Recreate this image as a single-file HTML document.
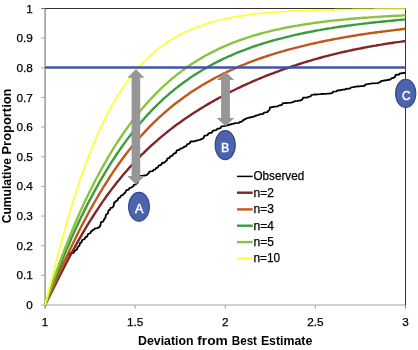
<!DOCTYPE html>
<html><head><meta charset="utf-8"><title>Chart</title>
<style>
html,body{margin:0;padding:0;background:#fff;}
body{width:418px;height:350px;overflow:hidden;}
svg{display:block;}
text{font-family:"Liberation Sans",sans-serif;fill:#000;}
.b{font-weight:bold;}
.r{stroke:#000;stroke-width:0.25px;}
</style></head><body>
<svg width="418" height="350" viewBox="0 0 418 350">
<rect width="418" height="350" fill="#fff"/>

<line x1="45.1" y1="8.0" x2="45.1" y2="308.7" stroke="#a3a3a3" stroke-width="1.7"/>
<line x1="41.1" y1="305.0" x2="405.5" y2="305.0" stroke="#a6a6a6" stroke-width="1.2"/>
<line x1="41.1" y1="8.5" x2="45.1" y2="8.5" stroke="#777" stroke-width="1"/>
<line x1="45.1" y1="8.5" x2="406.0" y2="8.5" stroke="#333" stroke-width="1"/>
<line x1="405.5" y1="8.5" x2="405.5" y2="305.3" stroke="#333" stroke-width="1"/>
<line x1="405.5" y1="305.3" x2="405.5" y2="308.7" stroke="#8a8a8a" stroke-width="1"/>
<line x1="41.1" y1="275.35" x2="45.1" y2="275.35" stroke="#a6a6a6" stroke-width="1"/>
<line x1="41.1" y1="245.70" x2="45.1" y2="245.70" stroke="#a6a6a6" stroke-width="1"/>
<line x1="41.1" y1="216.05" x2="45.1" y2="216.05" stroke="#a6a6a6" stroke-width="1"/>
<line x1="41.1" y1="186.40" x2="45.1" y2="186.40" stroke="#a6a6a6" stroke-width="1"/>
<line x1="41.1" y1="156.75" x2="45.1" y2="156.75" stroke="#a6a6a6" stroke-width="1"/>
<line x1="41.1" y1="127.10" x2="45.1" y2="127.10" stroke="#a6a6a6" stroke-width="1"/>
<line x1="41.1" y1="97.45" x2="45.1" y2="97.45" stroke="#a6a6a6" stroke-width="1"/>
<line x1="41.1" y1="67.80" x2="45.1" y2="67.80" stroke="#a6a6a6" stroke-width="1"/>
<line x1="41.1" y1="38.15" x2="45.1" y2="38.15" stroke="#a6a6a6" stroke-width="1"/>
<line x1="135.20" y1="305.0" x2="135.20" y2="308.7" stroke="#a6a6a6" stroke-width="1"/>
<line x1="225.30" y1="305.0" x2="225.30" y2="308.7" stroke="#a6a6a6" stroke-width="1"/>
<line x1="315.40" y1="305.0" x2="315.40" y2="308.7" stroke="#a6a6a6" stroke-width="1"/>
<text class="r" x="32.8" y="309.0" font-size="11.8" text-anchor="end" textLength="6.5" lengthAdjust="spacingAndGlyphs">0</text>
<text class="r" x="32.8" y="279.4" font-size="11.8" text-anchor="end" textLength="16.4" lengthAdjust="spacingAndGlyphs">0.1</text>
<text class="r" x="32.8" y="249.7" font-size="11.8" text-anchor="end" textLength="16.4" lengthAdjust="spacingAndGlyphs">0.2</text>
<text class="r" x="32.8" y="220.1" font-size="11.8" text-anchor="end" textLength="16.4" lengthAdjust="spacingAndGlyphs">0.3</text>
<text class="r" x="32.8" y="190.4" font-size="11.8" text-anchor="end" textLength="16.4" lengthAdjust="spacingAndGlyphs">0.4</text>
<text class="r" x="32.8" y="160.8" font-size="11.8" text-anchor="end" textLength="16.4" lengthAdjust="spacingAndGlyphs">0.5</text>
<text class="r" x="32.8" y="131.1" font-size="11.8" text-anchor="end" textLength="16.4" lengthAdjust="spacingAndGlyphs">0.6</text>
<text class="r" x="32.8" y="101.5" font-size="11.8" text-anchor="end" textLength="16.4" lengthAdjust="spacingAndGlyphs">0.7</text>
<text class="r" x="32.8" y="71.8" font-size="11.8" text-anchor="end" textLength="16.4" lengthAdjust="spacingAndGlyphs">0.8</text>
<text class="r" x="32.8" y="42.1" font-size="11.8" text-anchor="end" textLength="16.4" lengthAdjust="spacingAndGlyphs">0.9</text>
<text class="r" x="32.8" y="12.5" font-size="11.8" text-anchor="end" textLength="6.5" lengthAdjust="spacingAndGlyphs">1</text>
<text class="r" x="45.1" y="325.8" font-size="11.8" text-anchor="middle" textLength="6.5" lengthAdjust="spacingAndGlyphs">1</text>
<text class="r" x="135.2" y="325.8" font-size="11.8" text-anchor="middle" textLength="16.4" lengthAdjust="spacingAndGlyphs">1.5</text>
<text class="r" x="225.3" y="325.8" font-size="11.8" text-anchor="middle" textLength="6.5" lengthAdjust="spacingAndGlyphs">2</text>
<text class="r" x="315.4" y="325.8" font-size="11.8" text-anchor="middle" textLength="16.4" lengthAdjust="spacingAndGlyphs">2.5</text>
<text class="r" x="405.5" y="325.8" font-size="11.8" text-anchor="middle" textLength="6.5" lengthAdjust="spacingAndGlyphs">3</text>
<text class="b" y="345" font-size="12.4"><tspan x="138.00" textLength="55.60" lengthAdjust="spacingAndGlyphs">Deviation</tspan> <tspan x="197.20" textLength="30.60" lengthAdjust="spacingAndGlyphs">from</tspan> <tspan x="231.80" textLength="25.20" lengthAdjust="spacingAndGlyphs">Best</tspan> <tspan x="260.90" textLength="51.40" lengthAdjust="spacingAndGlyphs">Estimate</tspan></text>
<text class="b" transform="translate(11,0) rotate(-90)" y="0" font-size="12.8"><tspan x="-223.30" textLength="65.20" lengthAdjust="spacingAndGlyphs">Cumulative</tspan> <tspan x="-154.50" textLength="66.00" lengthAdjust="spacingAndGlyphs">Proportion</tspan></text>
<path d="M44.8,305.0 L48.0,297.1 L51.0,290.0 L54.9,281.0 L57.0,276.0 L61.3,267.5 L64.0,262.0 L68.5,254.0 L70.9,253.3 L72.3,253.2 L72.9,253.0 L73.9,252.4 L74.3,250.9 L75.3,250.7 L75.7,250.2 L77.1,249.2 L77.7,247.0 L79.3,245.9 L80.0,243.2 L81.5,242.2 L82.2,240.0 L84.4,239.2 L85.4,237.4 L87.2,236.4 L88.0,234.0 L90.4,233.1 L91.4,231.0 L92.6,230.6 L93.1,229.7 L94.4,229.3 L94.9,228.4 L97.3,228.2 L98.3,227.6 L99.5,227.1 L100.0,225.9 L100.6,224.8 L100.9,222.4 L103.3,221.4 L104.3,219.0 L105.5,217.7 L106.0,214.7 L107.8,213.4 L108.6,210.4 L110.0,209.7 L110.6,207.9 L112.2,207.6 L112.9,207.0 L113.7,205.7 L114.1,202.7 L115.1,202.3 L115.5,201.3 L117.5,200.3 L118.4,198.1 L120.2,197.3 L121.0,195.6 L122.8,195.1 L123.6,193.9 L125.3,192.8 L126.1,190.4 L128.6,189.7 L129.6,187.9 L131.3,187.6 L132.1,187.0 L133.4,186.3 L133.9,184.8 L135.7,184.4 L136.4,183.6 L137.9,182.2 L138.5,179.0 L140.0,178.1 L140.7,175.9 L143.1,175.8 L144.1,175.5 L146.6,175.1 L147.6,174.1 L148.8,173.3 L149.3,171.6 L152.6,171.1 L153.6,169.9 L155.3,169.4 L156.1,168.1 L157.9,167.3 L158.7,165.6 L161.1,164.8 L162.1,163.0 L164.6,162.5 L165.6,161.3 L166.8,160.5 L167.3,158.7 L169.4,158.0 L170.3,156.3 L172.5,155.6 L173.4,153.9 L175.9,152.8 L176.9,150.4 L179.3,149.9 L180.3,148.7 L182.7,148.2 L183.7,147.0 L186.1,146.2 L187.1,144.4 L189.6,143.5 L190.6,141.5 L194.7,141.3 L195.7,140.7 L197.4,140.5 L198.1,140.1 L200.1,139.8 L200.9,139.3 L203.3,138.3 L204.3,135.9 L207.6,135.1 L208.6,133.3 L211.9,132.5 L212.9,130.7 L216.1,130.2 L217.1,129.0 L220.4,128.2 L221.4,126.4 L223.9,126.2 L224.9,125.9 L227.0,125.6 L227.9,125.0 L229.2,124.9 L229.7,124.5 L231.3,124.3 L232.0,123.9 L234.0,123.7 L234.9,123.2 L239.0,122.8 L240.0,122.0 L242.4,121.3 L243.4,119.8 L244.6,119.5 L245.1,119.0 L246.4,118.7 L246.9,118.1 L248.5,117.9 L249.3,117.5 L251.2,117.4 L252.0,116.9 L254.4,116.5 L255.4,115.7 L256.8,115.5 L257.4,115.1 L259.0,114.8 L259.7,114.3 L263.0,113.8 L264.0,112.6 L267.3,112.1 L268.3,110.9 L269.5,109.9 L270.0,107.4 L271.5,107.3 L272.1,107.0 L273.6,106.9 L274.3,106.6 L277.6,106.3 L278.6,105.7 L281.9,104.9 L282.9,103.1 L286.0,103.0 L287.0,102.8 L291.0,102.6 L292.0,102.3 L293.8,101.9 L294.6,101.1 L297.6,100.9 L298.6,100.6 L300.0,100.5 L300.6,100.3 L302.4,99.5 L303.1,97.7 L307.3,97.5 L308.3,96.9 L310.7,96.3 L311.7,94.8 L313.7,94.7 L314.5,94.5 L316.2,94.5 L316.9,94.3 L320.8,94.2 L321.8,94.0 L324.4,93.9 L325.4,93.8 L327.2,93.7 L328.0,93.6 L329.8,93.5 L330.6,93.4 L332.4,92.9 L333.1,91.7 L336.4,91.3 L337.4,90.5 L339.6,90.4 L340.6,90.0 L342.0,89.9 L342.6,89.7 L345.0,89.5 L346.0,88.9 L350.1,88.5 L351.1,87.4 L353.3,87.2 L354.3,86.9 L355.7,86.7 L356.3,86.5 L359.5,86.4 L360.5,86.2 L362.3,86.1 L363.1,86.0 L364.9,85.5 L365.7,84.3 L367.7,84.2 L368.6,83.9 L370.8,83.7 L371.7,83.4 L377.6,83.2 L378.6,82.6 L380.4,82.1 L381.1,80.9 L383.0,80.8 L383.8,80.5 L386.1,80.4 L387.1,80.0 L390.4,79.5 L391.4,78.3 L394.7,77.3 L395.7,74.9 L399.0,74.5 L400.0,73.5 L401.3,73.4 L401.8,73.2 L404.3,73.0 L405.3,72.6" fill="none" stroke="#000" stroke-width="1.85" stroke-linejoin="round"/>
<path d="M45.1,305.0 L47.1,301.0 L49.1,297.0 L51.1,293.0 L53.1,289.0 L55.1,285.0 L57.1,281.0 L59.1,277.0 L61.1,273.1 L63.1,269.2 L65.1,265.3 L67.1,261.5 L69.1,257.7 L71.1,253.9 L73.1,250.2 L75.1,246.5 L77.1,242.9 L79.1,239.4 L81.1,235.8 L83.1,232.4 L85.1,229.0 L87.1,225.7 L89.1,222.4 L91.2,219.1 L93.2,216.0 L95.2,212.8 L97.2,209.8 L99.2,206.8 L101.2,203.8 L103.2,200.9 L105.2,198.1 L107.2,195.3 L109.2,192.6 L111.2,189.9 L113.2,187.3 L115.2,184.7 L117.2,182.1 L119.2,179.7 L121.2,177.2 L123.2,174.8 L125.2,172.5 L127.2,170.2 L129.2,167.9 L131.2,165.7 L133.2,163.5 L135.2,161.4 L137.2,159.3 L139.2,157.3 L141.2,155.2 L143.2,153.3 L145.2,151.3 L147.2,149.4 L149.2,147.5 L151.2,145.7 L153.2,143.9 L155.2,142.1 L157.2,140.3 L159.2,138.6 L161.2,136.9 L163.2,135.3 L165.2,133.6 L167.2,132.0 L169.2,130.4 L171.2,128.9 L173.2,127.3 L175.2,125.8 L177.2,124.3 L179.2,122.9 L181.3,121.4 L183.3,120.0 L185.3,118.6 L187.3,117.3 L189.3,115.9 L191.3,114.6 L193.3,113.3 L195.3,112.0 L197.3,110.7 L199.3,109.4 L201.3,108.2 L203.3,107.0 L205.3,105.8 L207.3,104.6 L209.3,103.4 L211.3,102.2 L213.3,101.1 L215.3,100.0 L217.3,98.9 L219.3,97.8 L221.3,96.7 L223.3,95.6 L225.3,94.6 L227.3,93.5 L229.3,92.5 L231.3,91.5 L233.3,90.5 L235.3,89.5 L237.3,88.5 L239.3,87.6 L241.3,86.6 L243.3,85.7 L245.3,84.8 L247.3,83.9 L249.3,83.0 L251.3,82.1 L253.3,81.2 L255.3,80.3 L257.3,79.5 L259.3,78.7 L261.3,77.8 L263.3,77.0 L265.3,76.2 L267.3,75.4 L269.3,74.6 L271.4,73.8 L273.4,73.1 L275.4,72.3 L277.4,71.6 L279.4,70.8 L281.4,70.1 L283.4,69.4 L285.4,68.7 L287.4,68.0 L289.4,67.3 L291.4,66.6 L293.4,65.9 L295.4,65.3 L297.4,64.6 L299.4,64.0 L301.4,63.3 L303.4,62.7 L305.4,62.1 L307.4,61.5 L309.4,60.9 L311.4,60.3 L313.4,59.7 L315.4,59.2 L317.4,58.6 L319.4,58.0 L321.4,57.5 L323.4,56.9 L325.4,56.4 L327.4,55.9 L329.4,55.4 L331.4,54.9 L333.4,54.4 L335.4,53.9 L337.4,53.4 L339.4,52.9 L341.4,52.4 L343.4,52.0 L345.4,51.5 L347.4,51.1 L349.4,50.6 L351.4,50.2 L353.4,49.8 L355.4,49.4 L357.4,49.0 L359.4,48.6 L361.5,48.2 L363.5,47.8 L365.5,47.4 L367.5,47.0 L369.5,46.6 L371.5,46.3 L373.5,45.9 L375.5,45.6 L377.5,45.2 L379.5,44.9 L381.5,44.6 L383.5,44.2 L385.5,43.9 L387.5,43.6 L389.5,43.3 L391.5,43.0 L393.5,42.7 L395.5,42.4 L397.5,42.1 L399.5,41.9 L401.5,41.6 L403.5,41.3 L405.5,41.1" fill="none" stroke="#7f262a" stroke-width="2.4" stroke-linejoin="round"/>
<path d="M45.1,305.0 L47.1,300.4 L49.1,295.9 L51.1,291.3 L53.1,286.8 L55.1,282.2 L57.1,277.7 L59.1,273.3 L61.1,268.8 L63.1,264.4 L65.1,260.1 L67.1,255.8 L69.1,251.5 L71.1,247.3 L73.1,243.1 L75.1,239.0 L77.1,234.9 L79.1,230.9 L81.1,227.0 L83.1,223.1 L85.1,219.3 L87.1,215.5 L89.1,211.8 L91.2,208.1 L93.2,204.5 L95.2,201.0 L97.2,197.5 L99.2,194.1 L101.2,190.8 L103.2,187.5 L105.2,184.3 L107.2,181.1 L109.2,178.0 L111.2,174.9 L113.2,171.9 L115.2,169.0 L117.2,166.1 L119.2,163.3 L121.2,160.5 L123.2,157.8 L125.2,155.2 L127.2,152.6 L129.2,150.0 L131.2,147.5 L133.2,145.1 L135.2,142.7 L137.2,140.3 L139.2,138.0 L141.2,135.8 L143.2,133.6 L145.2,131.4 L147.2,129.3 L149.2,127.2 L151.2,125.2 L153.2,123.2 L155.2,121.2 L157.2,119.3 L159.2,117.4 L161.2,115.6 L163.2,113.8 L165.2,112.0 L167.2,110.3 L169.2,108.6 L171.2,107.0 L173.2,105.3 L175.2,103.7 L177.2,102.2 L179.2,100.7 L181.3,99.2 L183.3,97.7 L185.3,96.3 L187.3,94.9 L189.3,93.5 L191.3,92.1 L193.3,90.8 L195.3,89.5 L197.3,88.2 L199.3,87.0 L201.3,85.7 L203.3,84.5 L205.3,83.4 L207.3,82.2 L209.3,81.1 L211.3,80.0 L213.3,78.9 L215.3,77.8 L217.3,76.8 L219.3,75.7 L221.3,74.7 L223.3,73.7 L225.3,72.8 L227.3,71.8 L229.3,70.9 L231.3,70.0 L233.3,69.1 L235.3,68.2 L237.3,67.3 L239.3,66.4 L241.3,65.6 L243.3,64.8 L245.3,64.0 L247.3,63.2 L249.3,62.4 L251.3,61.6 L253.3,60.9 L255.3,60.2 L257.3,59.4 L259.3,58.7 L261.3,58.0 L263.3,57.3 L265.3,56.7 L267.3,56.0 L269.3,55.3 L271.4,54.7 L273.4,54.1 L275.4,53.4 L277.4,52.8 L279.4,52.2 L281.4,51.6 L283.4,51.1 L285.4,50.5 L287.4,49.9 L289.4,49.4 L291.4,48.9 L293.4,48.3 L295.4,47.8 L297.4,47.3 L299.4,46.8 L301.4,46.3 L303.4,45.8 L305.4,45.3 L307.4,44.8 L309.4,44.4 L311.4,43.9 L313.4,43.5 L315.4,43.0 L317.4,42.6 L319.4,42.1 L321.4,41.7 L323.4,41.3 L325.4,40.9 L327.4,40.5 L329.4,40.1 L331.4,39.7 L333.4,39.3 L335.4,38.9 L337.4,38.6 L339.4,38.2 L341.4,37.8 L343.4,37.5 L345.4,37.1 L347.4,36.8 L349.4,36.5 L351.4,36.1 L353.4,35.8 L355.4,35.5 L357.4,35.1 L359.4,34.8 L361.5,34.5 L363.5,34.2 L365.5,33.9 L367.5,33.6 L369.5,33.3 L371.5,33.0 L373.5,32.8 L375.5,32.5 L377.5,32.2 L379.5,31.9 L381.5,31.7 L383.5,31.4 L385.5,31.2 L387.5,30.9 L389.5,30.7 L391.5,30.4 L393.5,30.2 L395.5,29.9 L397.5,29.7 L399.5,29.5 L401.5,29.2 L403.5,29.0 L405.5,28.8" fill="none" stroke="#c2571b" stroke-width="2.4" stroke-linejoin="round"/>
<path d="M45.1,305.0 L47.1,299.4 L49.1,293.9 L51.1,288.5 L53.1,283.2 L55.1,278.0 L57.1,272.9 L59.1,267.8 L61.1,262.8 L63.1,257.9 L65.1,253.1 L67.1,248.3 L69.1,243.7 L71.1,239.1 L73.1,234.6 L75.1,230.1 L77.1,225.8 L79.1,221.5 L81.1,217.3 L83.1,213.2 L85.1,209.1 L87.1,205.1 L89.1,201.2 L91.2,197.4 L93.2,193.6 L95.2,189.9 L97.2,186.3 L99.2,182.7 L101.2,179.2 L103.2,175.8 L105.2,172.4 L107.2,169.1 L109.2,165.8 L111.2,162.7 L113.2,159.6 L115.2,156.5 L117.2,153.5 L119.2,150.6 L121.2,147.7 L123.2,144.9 L125.2,142.1 L127.2,139.4 L129.2,136.8 L131.2,134.2 L133.2,131.6 L135.2,129.1 L137.2,126.7 L139.2,124.3 L141.2,122.0 L143.2,119.7 L145.2,117.4 L147.2,115.2 L149.2,113.1 L151.2,111.0 L153.2,108.9 L155.2,106.9 L157.2,104.9 L159.2,103.0 L161.2,101.1 L163.2,99.2 L165.2,97.4 L167.2,95.7 L169.2,93.9 L171.2,92.2 L173.2,90.6 L175.2,88.9 L177.2,87.4 L179.2,85.8 L181.3,84.3 L183.3,82.8 L185.3,81.3 L187.3,79.9 L189.3,78.5 L191.3,77.1 L193.3,75.8 L195.3,74.5 L197.3,73.2 L199.3,72.0 L201.3,70.7 L203.3,69.5 L205.3,68.4 L207.3,67.2 L209.3,66.1 L211.3,65.0 L213.3,63.9 L215.3,62.9 L217.3,61.9 L219.3,60.9 L221.3,59.9 L223.3,58.9 L225.3,58.0 L227.3,57.0 L229.3,56.1 L231.3,55.3 L233.3,54.4 L235.3,53.5 L237.3,52.7 L239.3,51.9 L241.3,51.1 L243.3,50.3 L245.3,49.6 L247.3,48.8 L249.3,48.1 L251.3,47.4 L253.3,46.7 L255.3,46.0 L257.3,45.3 L259.3,44.7 L261.3,44.0 L263.3,43.4 L265.3,42.8 L267.3,42.2 L269.3,41.6 L271.4,41.0 L273.4,40.4 L275.4,39.9 L277.4,39.3 L279.4,38.8 L281.4,38.3 L283.4,37.8 L285.4,37.3 L287.4,36.8 L289.4,36.3 L291.4,35.8 L293.4,35.4 L295.4,34.9 L297.4,34.5 L299.4,34.0 L301.4,33.6 L303.4,33.2 L305.4,32.8 L307.4,32.4 L309.4,32.0 L311.4,31.6 L313.4,31.2 L315.4,30.8 L317.4,30.4 L319.4,30.1 L321.4,29.7 L323.4,29.4 L325.4,29.0 L327.4,28.7 L329.4,28.4 L331.4,28.1 L333.4,27.7 L335.4,27.4 L337.4,27.1 L339.4,26.8 L341.4,26.5 L343.4,26.3 L345.4,26.0 L347.4,25.7 L349.4,25.4 L351.4,25.2 L353.4,24.9 L355.4,24.6 L357.4,24.4 L359.4,24.1 L361.5,23.9 L363.5,23.6 L365.5,23.4 L367.5,23.2 L369.5,22.9 L371.5,22.7 L373.5,22.5 L375.5,22.3 L377.5,22.1 L379.5,21.9 L381.5,21.7 L383.5,21.5 L385.5,21.3 L387.5,21.1 L389.5,20.9 L391.5,20.7 L393.5,20.5 L395.5,20.3 L397.5,20.1 L399.5,19.9 L401.5,19.8 L403.5,19.6 L405.5,19.4" fill="none" stroke="#3c9c3b" stroke-width="2.4" stroke-linejoin="round"/>
<path d="M45.1,305.0 L47.1,298.8 L49.1,292.8 L51.1,286.8 L53.1,281.0 L55.1,275.2 L57.1,269.6 L59.1,264.1 L61.1,258.7 L63.1,253.4 L65.1,248.2 L67.1,243.1 L69.1,238.0 L71.1,233.1 L73.1,228.3 L75.1,223.5 L77.1,218.9 L79.1,214.3 L81.1,209.8 L83.1,205.5 L85.1,201.1 L87.1,196.9 L89.1,192.8 L91.2,188.7 L93.2,184.7 L95.2,180.8 L97.2,177.0 L99.2,173.2 L101.2,169.5 L103.2,165.9 L105.2,162.4 L107.2,158.9 L109.2,155.5 L111.2,152.2 L113.2,148.9 L115.2,145.7 L117.2,142.6 L119.2,139.5 L121.2,136.5 L123.2,133.6 L125.2,130.7 L127.2,127.9 L129.2,125.1 L131.2,122.4 L133.2,119.8 L135.2,117.2 L137.2,114.7 L139.2,112.2 L141.2,109.8 L143.2,107.4 L145.2,105.1 L147.2,102.8 L149.2,100.6 L151.2,98.5 L153.2,96.4 L155.2,94.3 L157.2,92.3 L159.2,90.3 L161.2,88.4 L163.2,86.5 L165.2,84.6 L167.2,82.9 L169.2,81.1 L171.2,79.4 L173.2,77.7 L175.2,76.1 L177.2,74.5 L179.2,72.9 L181.3,71.4 L183.3,69.9 L185.3,68.5 L187.3,67.1 L189.3,65.7 L191.3,64.3 L193.3,63.0 L195.3,61.7 L197.3,60.5 L199.3,59.3 L201.3,58.1 L203.3,56.9 L205.3,55.8 L207.3,54.7 L209.3,53.6 L211.3,52.6 L213.3,51.6 L215.3,50.6 L217.3,49.6 L219.3,48.6 L221.3,47.7 L223.3,46.8 L225.3,45.9 L227.3,45.1 L229.3,44.2 L231.3,43.4 L233.3,42.6 L235.3,41.9 L237.3,41.1 L239.3,40.4 L241.3,39.7 L243.3,39.0 L245.3,38.3 L247.3,37.6 L249.3,37.0 L251.3,36.4 L253.3,35.7 L255.3,35.1 L257.3,34.6 L259.3,34.0 L261.3,33.4 L263.3,32.9 L265.3,32.4 L267.3,31.9 L269.3,31.4 L271.4,30.9 L273.4,30.4 L275.4,29.9 L277.4,29.5 L279.4,29.1 L281.4,28.6 L283.4,28.2 L285.4,27.8 L287.4,27.4 L289.4,27.0 L291.4,26.6 L293.4,26.3 L295.4,25.9 L297.4,25.6 L299.4,25.2 L301.4,24.9 L303.4,24.6 L305.4,24.3 L307.4,24.0 L309.4,23.7 L311.4,23.4 L313.4,23.1 L315.4,22.8 L317.4,22.5 L319.4,22.3 L321.4,22.0 L323.4,21.8 L325.4,21.5 L327.4,21.3 L329.4,21.0 L331.4,20.8 L333.4,20.6 L335.4,20.4 L337.4,20.2 L339.4,20.0 L341.4,19.8 L343.4,19.6 L345.4,19.4 L347.4,19.2 L349.4,19.0 L351.4,18.8 L353.4,18.7 L355.4,18.5 L357.4,18.3 L359.4,18.2 L361.5,18.0 L363.5,17.8 L365.5,17.7 L367.5,17.6 L369.5,17.4 L371.5,17.3 L373.5,17.1 L375.5,17.0 L377.5,16.9 L379.5,16.7 L381.5,16.6 L383.5,16.5 L385.5,16.4 L387.5,16.3 L389.5,16.2 L391.5,16.0 L393.5,15.9 L395.5,15.8 L397.5,15.7 L399.5,15.6 L401.5,15.5 L403.5,15.4 L405.5,15.3" fill="none" stroke="#8ac43f" stroke-width="2.4" stroke-linejoin="round"/>
<path d="M45.1,305.0 L47.1,297.0 L49.1,289.0 L51.1,281.1 L53.1,273.2 L55.1,265.5 L57.1,257.8 L59.1,250.3 L61.1,242.8 L63.1,235.6 L65.1,228.4 L67.1,221.4 L69.1,214.6 L71.1,207.9 L73.1,201.3 L75.1,195.0 L77.1,188.8 L79.1,182.7 L81.1,176.8 L83.1,171.1 L85.1,165.5 L87.1,160.1 L89.1,154.9 L91.2,149.8 L93.2,144.9 L95.2,140.1 L97.2,135.5 L99.2,131.0 L101.2,126.6 L103.2,122.4 L105.2,118.4 L107.2,114.4 L109.2,110.6 L111.2,106.9 L113.2,103.4 L115.2,100.0 L117.2,96.6 L119.2,93.4 L121.2,90.3 L123.2,87.3 L125.2,84.4 L127.2,81.6 L129.2,78.9 L131.2,76.3 L133.2,73.8 L135.2,71.4 L137.2,69.1 L139.2,66.8 L141.2,64.6 L143.2,62.5 L145.2,60.5 L147.2,58.5 L149.2,56.6 L151.2,54.8 L153.2,53.0 L155.2,51.3 L157.2,49.7 L159.2,48.1 L161.2,46.6 L163.2,45.1 L165.2,43.7 L167.2,42.3 L169.2,41.0 L171.2,39.8 L173.2,38.5 L175.2,37.4 L177.2,36.2 L179.2,35.1 L181.3,34.1 L183.3,33.1 L185.3,32.1 L187.3,31.2 L189.3,30.2 L191.3,29.4 L193.3,28.5 L195.3,27.7 L197.3,27.0 L199.3,26.2 L201.3,25.5 L203.3,24.8 L205.3,24.1 L207.3,23.5 L209.3,22.9 L211.3,22.3 L213.3,21.7 L215.3,21.2 L217.3,20.7 L219.3,20.2 L221.3,19.7 L223.3,19.2 L225.3,18.8 L227.3,18.4 L229.3,18.0 L231.3,17.6 L233.3,17.2 L235.3,16.8 L237.3,16.5 L239.3,16.2 L241.3,15.9 L243.3,15.6 L245.3,15.3 L247.3,15.0 L249.3,14.7 L251.3,14.5 L253.3,14.2 L255.3,14.0 L257.3,13.8 L259.3,13.5 L261.3,13.3 L263.3,13.1 L265.3,13.0 L267.3,12.8 L269.3,12.6 L271.4,12.4 L273.4,12.3 L275.4,12.1 L277.4,12.0 L279.4,11.8 L281.4,11.7 L283.4,11.6 L285.4,11.5 L287.4,11.4 L289.4,11.2 L291.4,11.1 L293.4,11.0 L295.4,10.9 L297.4,10.8 L299.4,10.8 L301.4,10.7 L303.4,10.6 L305.4,10.5 L307.4,10.4 L309.4,10.4 L311.4,10.3 L313.4,10.2 L315.4,10.2 L317.4,10.1 L319.4,10.1 L321.4,10.0 L323.4,10.0 L325.4,9.9 L327.4,9.9 L329.4,9.8 L331.4,9.8 L333.4,9.8 L335.4,9.7 L337.4,9.7 L339.4,9.6 L341.4,9.6 L343.4,9.6 L345.4,9.5 L347.4,9.5 L349.4,9.5 L351.4,9.5 L353.4,9.4 L355.4,9.4 L357.4,9.4 L359.4,9.4 L361.5,9.4 L363.5,9.3 L365.5,9.3 L367.5,9.3 L369.5,9.3 L371.5,9.3 L373.5,9.3 L375.5,9.2 L377.5,9.2 L379.5,9.2 L381.5,9.2 L383.5,9.2 L385.5,9.2 L387.5,9.2 L389.5,9.2 L391.5,9.2 L393.5,9.1 L395.5,9.1 L397.5,9.1 L399.5,9.1 L401.5,9.1 L403.5,9.1 L405.5,9.1" fill="none" stroke="#ffff30" stroke-width="1.7" stroke-linejoin="round"/>
<line x1="45.1" y1="67.5" x2="405.5" y2="67.5" stroke="#3f55a5" stroke-width="2.6"/>
<polygon points="135.9,69.3 144.5,77.7 140.2,77.7 140.2,176.0 144.5,176.0 135.9,184.4 127.3,176.0 131.6,176.0 131.6,77.7 127.3,77.7" fill="#969696"/>
<polygon points="225.5,71.8 234.2,80.0 229.9,80.0 229.9,118.0 234.2,118.0 225.5,126.2 216.8,118.0 221.1,118.0 221.1,80.0 216.8,80.0" fill="#969696"/>
<ellipse cx="139.0" cy="206.8" rx="10.4" ry="14.4" fill="#4b64ad" stroke="#34468c" stroke-width="1.1"/><text x="139.3" y="213.4" font-size="13.2" text-anchor="middle" textLength="8.4" lengthAdjust="spacingAndGlyphs" style="fill:#fff;stroke:#fff;stroke-width:0.45px">A</text>
<ellipse cx="225.2" cy="145.1" rx="10.1" ry="14.5" fill="#4b64ad" stroke="#34468c" stroke-width="1.1"/><text x="225.2" y="152.1" font-size="13.2" text-anchor="middle" textLength="8.3" lengthAdjust="spacingAndGlyphs" style="fill:#fff;stroke:#fff;stroke-width:0.45px">B</text>
<ellipse cx="405.7" cy="93.4" rx="10.1" ry="14.1" fill="#4b64ad" stroke="#34468c" stroke-width="1.1"/><text x="406.4" y="100" font-size="13.2" text-anchor="middle" textLength="8.6" lengthAdjust="spacingAndGlyphs" style="fill:#fff;stroke:#fff;stroke-width:0.45px">C</text>
<line x1="237" y1="176.4" x2="252.7" y2="176.4" stroke="#000" stroke-width="1.5"/>
<text class="r" x="253.5" y="180.4" font-size="11.9" textLength="50.7" lengthAdjust="spacingAndGlyphs">Observed</text>
<line x1="237" y1="192.7" x2="252.7" y2="192.7" stroke="#7f262a" stroke-width="2.4"/>
<text class="r" x="253.5" y="196.7" font-size="11.9" textLength="20.3" lengthAdjust="spacingAndGlyphs">n=2</text>
<line x1="237" y1="209.4" x2="252.7" y2="209.4" stroke="#c2571b" stroke-width="2.4"/>
<text class="r" x="253.5" y="213.4" font-size="11.9" textLength="20.3" lengthAdjust="spacingAndGlyphs">n=3</text>
<line x1="237" y1="225.7" x2="252.7" y2="225.7" stroke="#3c9c3b" stroke-width="2.4"/>
<text class="r" x="253.5" y="229.7" font-size="11.9" textLength="20.3" lengthAdjust="spacingAndGlyphs">n=4</text>
<line x1="237" y1="242.1" x2="252.7" y2="242.1" stroke="#8ac43f" stroke-width="2.4"/>
<text class="r" x="253.5" y="246.1" font-size="11.9" textLength="20.3" lengthAdjust="spacingAndGlyphs">n=5</text>
<line x1="237" y1="258.4" x2="252.7" y2="258.4" stroke="#ffff30" stroke-width="1.8"/>
<text class="r" x="253.5" y="262.4" font-size="11.9" textLength="26.7" lengthAdjust="spacingAndGlyphs">n=10</text>
</svg></body></html>
